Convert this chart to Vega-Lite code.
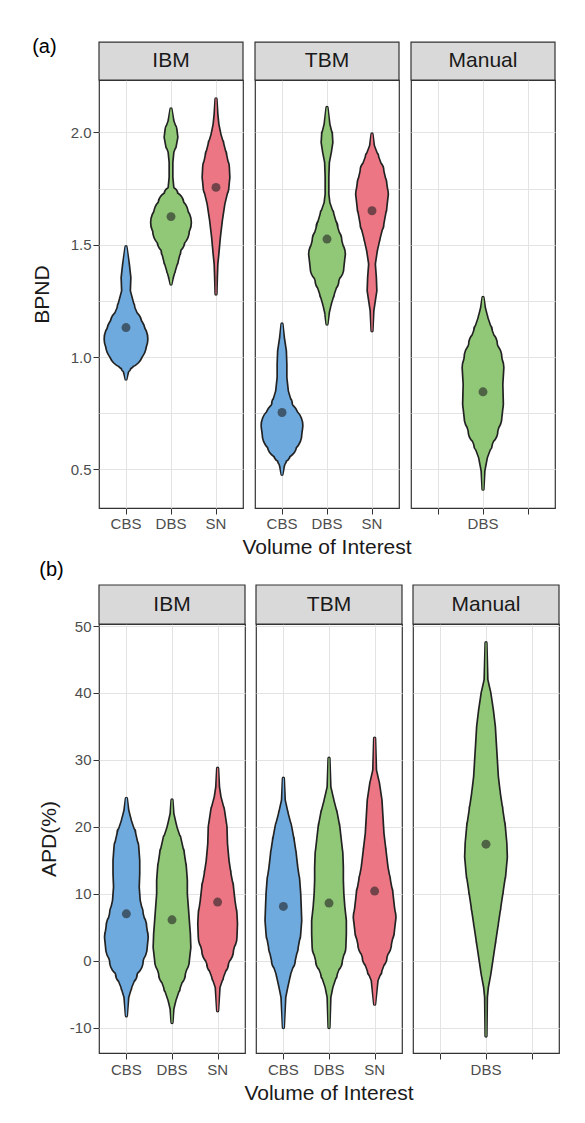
{
  "$schema": "https://vega.github.io/schema/vega-lite/v6.json",
  "background": "white",
  "padding": {"left": 31, "top": 36, "right": 10, "bottom": 10},
  "columns": 1,
  "align": "none",
  "spacing": 1,
  "config": {
    "font": "Liberation Sans",
    "view": {"stroke": "#333333", "strokeWidth": 1.2},
    "axis": {"labelColor": "#4d4d4d", "labelFontSize": 15, "titleFontSize": 21, "titleFontWeight": "normal", "titleColor": "#1a1a1a", "domain": false, "tickColor": "#333333", "tickSize": 6, "gridColor": "#e3e3e3", "gridWidth": 1},
    "title": {"fontSize": 20, "fontWeight": "normal", "color": "#000000", "anchor": "start", "frame": "bounds"}
  },
  "concat": [
    {
      "title": {"text": "(a)", "offset": -16, "dx": 1},
      "data": {"values": [
        {"kind": "strip", "panel": "IBM"}, {"kind": "strip", "panel": "TBM"}, {"kind": "strip", "panel": "Manual"},
        {"kind": "label", "panel": "IBM", "voi": "CBS"}, {"kind": "label", "panel": "IBM", "voi": "DBS"}, {"kind": "label", "panel": "IBM", "voi": "SN"},
        {"kind": "label", "panel": "TBM", "voi": "CBS"}, {"kind": "label", "panel": "TBM", "voi": "DBS"}, {"kind": "label", "panel": "TBM", "voi": "SN"},
        {"kind": "label", "panel": "Manual", "voi": "DBS"},
        {"kind": "mean", "panel": "IBM", "voi": "CBS", "value": 1.131}, {"kind": "mean", "panel": "IBM", "voi": "DBS", "value": 1.625}, {"kind": "mean", "panel": "IBM", "voi": "SN", "value": 1.755},
        {"kind": "mean", "panel": "TBM", "voi": "CBS", "value": 0.753}, {"kind": "mean", "panel": "TBM", "voi": "DBS", "value": 1.525}, {"kind": "mean", "panel": "TBM", "voi": "SN", "value": 1.651},
        {"kind": "mean", "panel": "Manual", "voi": "DBS", "value": 0.845},
        {"kind": "violin", "panel": "IBM", "voi": "CBS", "value": 1.491, "density": 0},
        {"kind": "violin", "panel": "IBM", "voi": "CBS", "value": 1.414, "density": 0.111},
        {"kind": "violin", "panel": "IBM", "voi": "CBS", "value": 1.354, "density": 0.178},
        {"kind": "violin", "panel": "IBM", "voi": "CBS", "value": 1.295, "density": 0.156},
        {"kind": "violin", "panel": "IBM", "voi": "CBS", "value": 1.22, "density": 0.356},
        {"kind": "violin", "panel": "IBM", "voi": "CBS", "value": 1.147, "density": 0.667},
        {"kind": "violin", "panel": "IBM", "voi": "CBS", "value": 1.11, "density": 0.822},
        {"kind": "violin", "panel": "IBM", "voi": "CBS", "value": 1.08, "density": 0.933},
        {"kind": "violin", "panel": "IBM", "voi": "CBS", "value": 1.055, "density": 0.867},
        {"kind": "violin", "panel": "IBM", "voi": "CBS", "value": 1.028, "density": 0.733},
        {"kind": "violin", "panel": "IBM", "voi": "CBS", "value": 0.983, "density": 0.378},
        {"kind": "violin", "panel": "IBM", "voi": "CBS", "value": 0.953, "density": 0.178},
        {"kind": "violin", "panel": "IBM", "voi": "CBS", "value": 0.931, "density": 0.067},
        {"kind": "violin", "panel": "IBM", "voi": "CBS", "value": 0.902, "density": 0},
        {"kind": "violin", "panel": "IBM", "voi": "DBS", "value": 2.104, "density": 0},
        {"kind": "violin", "panel": "IBM", "voi": "DBS", "value": 2.052, "density": 0.089},
        {"kind": "violin", "panel": "IBM", "voi": "DBS", "value": 2.015, "density": 0.222},
        {"kind": "violin", "panel": "IBM", "voi": "DBS", "value": 1.978, "density": 0.267},
        {"kind": "violin", "panel": "IBM", "voi": "DBS", "value": 1.941, "density": 0.2},
        {"kind": "violin", "panel": "IBM", "voi": "DBS", "value": 1.911, "density": 0.089},
        {"kind": "violin", "panel": "IBM", "voi": "DBS", "value": 1.866, "density": 0.044},
        {"kind": "violin", "panel": "IBM", "voi": "DBS", "value": 1.8, "density": 0.044},
        {"kind": "violin", "panel": "IBM", "voi": "DBS", "value": 1.755, "density": 0.089},
        {"kind": "violin", "panel": "IBM", "voi": "DBS", "value": 1.726, "density": 0.267},
        {"kind": "violin", "panel": "IBM", "voi": "DBS", "value": 1.681, "density": 0.533},
        {"kind": "violin", "panel": "IBM", "voi": "DBS", "value": 1.637, "density": 0.733},
        {"kind": "violin", "panel": "IBM", "voi": "DBS", "value": 1.599, "density": 0.867},
        {"kind": "violin", "panel": "IBM", "voi": "DBS", "value": 1.562, "density": 0.778},
        {"kind": "violin", "panel": "IBM", "voi": "DBS", "value": 1.518, "density": 0.578},
        {"kind": "violin", "panel": "IBM", "voi": "DBS", "value": 1.473, "density": 0.4},
        {"kind": "violin", "panel": "IBM", "voi": "DBS", "value": 1.428, "density": 0.289},
        {"kind": "violin", "panel": "IBM", "voi": "DBS", "value": 1.384, "density": 0.156},
        {"kind": "violin", "panel": "IBM", "voi": "DBS", "value": 1.354, "density": 0.067},
        {"kind": "violin", "panel": "IBM", "voi": "DBS", "value": 1.325, "density": 0},
        {"kind": "violin", "panel": "IBM", "voi": "SN", "value": 2.149, "density": 0},
        {"kind": "violin", "panel": "IBM", "voi": "SN", "value": 2.082, "density": 0.044},
        {"kind": "violin", "panel": "IBM", "voi": "SN", "value": 2.037, "density": 0.089},
        {"kind": "violin", "panel": "IBM", "voi": "SN", "value": 1.993, "density": 0.178},
        {"kind": "violin", "panel": "IBM", "voi": "SN", "value": 1.948, "density": 0.311},
        {"kind": "violin", "panel": "IBM", "voi": "SN", "value": 1.896, "density": 0.444},
        {"kind": "violin", "panel": "IBM", "voi": "SN", "value": 1.844, "density": 0.556},
        {"kind": "violin", "panel": "IBM", "voi": "SN", "value": 1.8, "density": 0.578},
        {"kind": "violin", "panel": "IBM", "voi": "SN", "value": 1.755, "density": 0.533},
        {"kind": "violin", "panel": "IBM", "voi": "SN", "value": 1.681, "density": 0.356},
        {"kind": "violin", "panel": "IBM", "voi": "SN", "value": 1.607, "density": 0.244},
        {"kind": "violin", "panel": "IBM", "voi": "SN", "value": 1.532, "density": 0.156},
        {"kind": "violin", "panel": "IBM", "voi": "SN", "value": 1.458, "density": 0.089},
        {"kind": "violin", "panel": "IBM", "voi": "SN", "value": 1.414, "density": 0.044},
        {"kind": "violin", "panel": "IBM", "voi": "SN", "value": 1.354, "density": 0.022},
        {"kind": "violin", "panel": "IBM", "voi": "SN", "value": 1.28, "density": 0},
        {"kind": "violin", "panel": "TBM", "voi": "CBS", "value": 1.147, "density": 0},
        {"kind": "violin", "panel": "TBM", "voi": "CBS", "value": 1.087, "density": 0.067},
        {"kind": "violin", "panel": "TBM", "voi": "CBS", "value": 1.028, "density": 0.156},
        {"kind": "violin", "panel": "TBM", "voi": "CBS", "value": 0.968, "density": 0.178},
        {"kind": "violin", "panel": "TBM", "voi": "CBS", "value": 0.909, "density": 0.178},
        {"kind": "violin", "panel": "TBM", "voi": "CBS", "value": 0.849, "density": 0.244},
        {"kind": "violin", "panel": "TBM", "voi": "CBS", "value": 0.79, "density": 0.422},
        {"kind": "violin", "panel": "TBM", "voi": "CBS", "value": 0.731, "density": 0.689},
        {"kind": "violin", "panel": "TBM", "voi": "CBS", "value": 0.694, "density": 0.889},
        {"kind": "violin", "panel": "TBM", "voi": "CBS", "value": 0.657, "density": 0.844},
        {"kind": "violin", "panel": "TBM", "voi": "CBS", "value": 0.612, "density": 0.622},
        {"kind": "violin", "panel": "TBM", "voi": "CBS", "value": 0.567, "density": 0.333},
        {"kind": "violin", "panel": "TBM", "voi": "CBS", "value": 0.538, "density": 0.156},
        {"kind": "violin", "panel": "TBM", "voi": "CBS", "value": 0.515, "density": 0.067},
        {"kind": "violin", "panel": "TBM", "voi": "CBS", "value": 0.478, "density": 0},
        {"kind": "violin", "panel": "TBM", "voi": "DBS", "value": 2.111, "density": 0},
        {"kind": "violin", "panel": "TBM", "voi": "DBS", "value": 2.037, "density": 0.089},
        {"kind": "violin", "panel": "TBM", "voi": "DBS", "value": 1.993, "density": 0.2},
        {"kind": "violin", "panel": "TBM", "voi": "DBS", "value": 1.955, "density": 0.222},
        {"kind": "violin", "panel": "TBM", "voi": "DBS", "value": 1.911, "density": 0.156},
        {"kind": "violin", "panel": "TBM", "voi": "DBS", "value": 1.866, "density": 0.067},
        {"kind": "violin", "panel": "TBM", "voi": "DBS", "value": 1.8, "density": 0.044},
        {"kind": "violin", "panel": "TBM", "voi": "DBS", "value": 1.726, "density": 0.044},
        {"kind": "violin", "panel": "TBM", "voi": "DBS", "value": 1.688, "density": 0.089},
        {"kind": "violin", "panel": "TBM", "voi": "DBS", "value": 1.637, "density": 0.267},
        {"kind": "violin", "panel": "TBM", "voi": "DBS", "value": 1.577, "density": 0.444},
        {"kind": "violin", "panel": "TBM", "voi": "DBS", "value": 1.518, "density": 0.622},
        {"kind": "violin", "panel": "TBM", "voi": "DBS", "value": 1.458, "density": 0.778},
        {"kind": "violin", "panel": "TBM", "voi": "DBS", "value": 1.399, "density": 0.711},
        {"kind": "violin", "panel": "TBM", "voi": "DBS", "value": 1.339, "density": 0.489},
        {"kind": "violin", "panel": "TBM", "voi": "DBS", "value": 1.28, "density": 0.289},
        {"kind": "violin", "panel": "TBM", "voi": "DBS", "value": 1.236, "density": 0.156},
        {"kind": "violin", "panel": "TBM", "voi": "DBS", "value": 1.198, "density": 0.067},
        {"kind": "violin", "panel": "TBM", "voi": "DBS", "value": 1.147, "density": 0},
        {"kind": "violin", "panel": "TBM", "voi": "SN", "value": 1.993, "density": 0},
        {"kind": "violin", "panel": "TBM", "voi": "SN", "value": 1.941, "density": 0.067},
        {"kind": "violin", "panel": "TBM", "voi": "SN", "value": 1.889, "density": 0.267},
        {"kind": "violin", "panel": "TBM", "voi": "SN", "value": 1.829, "density": 0.489},
        {"kind": "violin", "panel": "TBM", "voi": "SN", "value": 1.77, "density": 0.622},
        {"kind": "violin", "panel": "TBM", "voi": "SN", "value": 1.726, "density": 0.689},
        {"kind": "violin", "panel": "TBM", "voi": "SN", "value": 1.666, "density": 0.622},
        {"kind": "violin", "panel": "TBM", "voi": "SN", "value": 1.592, "density": 0.489},
        {"kind": "violin", "panel": "TBM", "voi": "SN", "value": 1.532, "density": 0.333},
        {"kind": "violin", "panel": "TBM", "voi": "SN", "value": 1.473, "density": 0.2},
        {"kind": "violin", "panel": "TBM", "voi": "SN", "value": 1.414, "density": 0.111},
        {"kind": "violin", "panel": "TBM", "voi": "SN", "value": 1.354, "density": 0.156},
        {"kind": "violin", "panel": "TBM", "voi": "SN", "value": 1.295, "density": 0.178},
        {"kind": "violin", "panel": "TBM", "voi": "SN", "value": 1.25, "density": 0.111},
        {"kind": "violin", "panel": "TBM", "voi": "SN", "value": 1.206, "density": 0.044},
        {"kind": "violin", "panel": "TBM", "voi": "SN", "value": 1.117, "density": 0},
        {"kind": "violin", "panel": "Manual", "voi": "DBS", "value": 1.265, "density": 0},
        {"kind": "violin", "panel": "Manual", "voi": "DBS", "value": 1.22, "density": 0.067},
        {"kind": "violin", "panel": "Manual", "voi": "DBS", "value": 1.176, "density": 0.178},
        {"kind": "violin", "panel": "Manual", "voi": "DBS", "value": 1.117, "density": 0.378},
        {"kind": "violin", "panel": "Manual", "voi": "DBS", "value": 1.057, "density": 0.6},
        {"kind": "violin", "panel": "Manual", "voi": "DBS", "value": 0.998, "density": 0.8},
        {"kind": "violin", "panel": "Manual", "voi": "DBS", "value": 0.953, "density": 0.889},
        {"kind": "violin", "panel": "Manual", "voi": "DBS", "value": 0.879, "density": 0.844},
        {"kind": "violin", "panel": "Manual", "voi": "DBS", "value": 0.79, "density": 0.867},
        {"kind": "violin", "panel": "Manual", "voi": "DBS", "value": 0.731, "density": 0.8},
        {"kind": "violin", "panel": "Manual", "voi": "DBS", "value": 0.671, "density": 0.622},
        {"kind": "violin", "panel": "Manual", "voi": "DBS", "value": 0.612, "density": 0.378},
        {"kind": "violin", "panel": "Manual", "voi": "DBS", "value": 0.552, "density": 0.156},
        {"kind": "violin", "panel": "Manual", "voi": "DBS", "value": 0.493, "density": 0.044},
        {"kind": "violin", "panel": "Manual", "voi": "DBS", "value": 0.412, "density": 0}
      ]},
      "facet": {"column": {"field": "panel", "type": "nominal", "sort": ["IBM", "TBM", "Manual"], "header": {"labels": false, "title": "Volume of Interest", "titleOrient": "bottom", "titleFontSize": 21, "titleFontWeight": "normal", "titleColor": "#1a1a1a", "titlePadding": 12}}},
      "spacing": 12,
      "bounds": "flush",
      "spec": {
        "width": 144,
        "height": 428,
        "resolve": {"scale": {"size": "independent"}},
        "layer": [
          {
            "transform": [{"filter": {"field": "kind", "equal": "strip"}}],
            "mark": {"type": "rect", "fill": "#d9d9d9", "stroke": "#333333", "strokeWidth": 1.2},
            "encoding": {
              "y": {"datum": 2.233, "type": "quantitative", "scale": {"domain": [0.328, 2.233], "nice": false, "zero": false}},
              "y2": {"datum": 2.402}
            }
          },
          {
            "transform": [{"filter": {"field": "kind", "equal": "strip"}}],
            "mark": {"type": "text", "fontSize": 21, "color": "#1a1a1a", "baseline": "middle"},
            "encoding": {
              "y": {"datum": 2.3175, "type": "quantitative"},
              "text": {"field": "panel", "type": "nominal"}
            }
          },
          {
            "transform": [{"filter": {"field": "kind", "equal": "violin"}}],
            "mark": {"type": "trail", "color": "#222222"},
            "encoding": {
              "x": {"field": "voi", "type": "nominal", "scale": {"type": "point", "padding": 0.6, "domain": ["CBS", "DBS", "SN"]}, "axis": {"labels": false, "title": null, "grid": true, "ticks": true}},
              "y": {"field": "value", "type": "quantitative", "axis": {"title": "BPND", "values": [0.5, 0.75, 1, 1.25, 1.5, 1.75, 2], "labelExpr": "abs(datum.value*2 - round(datum.value*2)) < 0.001 ? format(datum.value, '.1f') : ''", "tickOpacity": {"condition": {"test": "abs(datum.value*2 - round(datum.value*2)) < 0.001", "value": 1}, "value": 0}, "labelPadding": 2, "titlePadding": 18, "grid": true}},
              "size": {"field": "density", "type": "quantitative", "scale": {"domain": [0, 1], "range": [3.4, 48.4]}, "legend": null},
              "detail": {"field": "voi"},
              "order": {"field": "value", "type": "quantitative"}
            }
          },
          {
            "transform": [{"filter": {"field": "kind", "equal": "violin"}}],
            "mark": {"type": "trail"},
            "encoding": {
              "x": {"field": "voi", "type": "nominal"},
              "y": {"field": "value", "type": "quantitative"},
              "size": {"field": "density", "type": "quantitative", "scale": {"domain": [0, 1], "range": [0, 45]}, "legend": null},
              "color": {"field": "voi", "type": "nominal", "scale": {"domain": ["CBS", "DBS", "SN"], "range": ["#6eaade", "#91c878", "#ec7684"]}, "legend": null},
              "order": {"field": "value", "type": "quantitative"}
            }
          },
          {
            "transform": [{"filter": {"field": "kind", "equal": "mean"}}],
            "mark": {"type": "circle", "size": 80, "color": "#222222", "opacity": 0.6},
            "encoding": {
              "x": {"field": "voi", "type": "nominal"},
              "y": {"field": "value", "type": "quantitative"}
            }
          },
          {
            "transform": [{"filter": {"field": "kind", "equal": "label"}}],
            "mark": {"type": "text", "fontSize": 15, "color": "#4d4d4d", "baseline": "middle"},
            "encoding": {
              "x": {"field": "voi", "type": "nominal"},
              "y": {"datum": 0.257, "type": "quantitative"},
              "text": {"field": "voi", "type": "nominal"}
            }
          }
        ]
      }
    },
    {
      "title": {"text": "(b)", "offset": 4, "dx": 1},
      "data": {"values": [
        {"kind": "strip", "panel": "IBM"}, {"kind": "strip", "panel": "TBM"}, {"kind": "strip", "panel": "Manual"},
        {"kind": "label", "panel": "IBM", "voi": "CBS"}, {"kind": "label", "panel": "IBM", "voi": "DBS"}, {"kind": "label", "panel": "IBM", "voi": "SN"},
        {"kind": "label", "panel": "TBM", "voi": "CBS"}, {"kind": "label", "panel": "TBM", "voi": "DBS"}, {"kind": "label", "panel": "TBM", "voi": "SN"},
        {"kind": "label", "panel": "Manual", "voi": "DBS"},
        {"kind": "mean", "panel": "IBM", "voi": "CBS", "value": 7.0}, {"kind": "mean", "panel": "IBM", "voi": "DBS", "value": 6.1}, {"kind": "mean", "panel": "IBM", "voi": "SN", "value": 8.75},
        {"kind": "mean", "panel": "TBM", "voi": "CBS", "value": 8.1}, {"kind": "mean", "panel": "TBM", "voi": "DBS", "value": 8.6}, {"kind": "mean", "panel": "TBM", "voi": "SN", "value": 10.4},
        {"kind": "mean", "panel": "Manual", "voi": "DBS", "value": 17.4},
        {"kind": "violin", "panel": "IBM", "voi": "CBS", "value": 24.25, "density": 0},
        {"kind": "violin", "panel": "IBM", "voi": "CBS", "value": 22.5, "density": 0.067},
        {"kind": "violin", "panel": "IBM", "voi": "CBS", "value": 21, "density": 0.178},
        {"kind": "violin", "panel": "IBM", "voi": "CBS", "value": 19, "density": 0.378},
        {"kind": "violin", "panel": "IBM", "voi": "CBS", "value": 17, "density": 0.511},
        {"kind": "violin", "panel": "IBM", "voi": "CBS", "value": 15, "density": 0.556},
        {"kind": "violin", "panel": "IBM", "voi": "CBS", "value": 13, "density": 0.556},
        {"kind": "violin", "panel": "IBM", "voi": "CBS", "value": 11, "density": 0.533},
        {"kind": "violin", "panel": "IBM", "voi": "CBS", "value": 9, "density": 0.578},
        {"kind": "violin", "panel": "IBM", "voi": "CBS", "value": 7, "density": 0.711},
        {"kind": "violin", "panel": "IBM", "voi": "CBS", "value": 5, "density": 0.867},
        {"kind": "violin", "panel": "IBM", "voi": "CBS", "value": 3.5, "density": 0.933},
        {"kind": "violin", "panel": "IBM", "voi": "CBS", "value": 2, "density": 0.889},
        {"kind": "violin", "panel": "IBM", "voi": "CBS", "value": 0, "density": 0.711},
        {"kind": "violin", "panel": "IBM", "voi": "CBS", "value": -2, "density": 0.444},
        {"kind": "violin", "panel": "IBM", "voi": "CBS", "value": -4, "density": 0.2},
        {"kind": "violin", "panel": "IBM", "voi": "CBS", "value": -5.5, "density": 0.067},
        {"kind": "violin", "panel": "IBM", "voi": "CBS", "value": -8.25, "density": 0},
        {"kind": "violin", "panel": "IBM", "voi": "DBS", "value": 24, "density": 0},
        {"kind": "violin", "panel": "IBM", "voi": "DBS", "value": 22, "density": 0.044},
        {"kind": "violin", "panel": "IBM", "voi": "DBS", "value": 20, "density": 0.178},
        {"kind": "violin", "panel": "IBM", "voi": "DBS", "value": 18, "density": 0.378},
        {"kind": "violin", "panel": "IBM", "voi": "DBS", "value": 16, "density": 0.511},
        {"kind": "violin", "panel": "IBM", "voi": "DBS", "value": 14, "density": 0.6},
        {"kind": "violin", "panel": "IBM", "voi": "DBS", "value": 12, "density": 0.644},
        {"kind": "violin", "panel": "IBM", "voi": "DBS", "value": 10, "density": 0.644},
        {"kind": "violin", "panel": "IBM", "voi": "DBS", "value": 8, "density": 0.689},
        {"kind": "violin", "panel": "IBM", "voi": "DBS", "value": 6, "density": 0.733},
        {"kind": "violin", "panel": "IBM", "voi": "DBS", "value": 4, "density": 0.778},
        {"kind": "violin", "panel": "IBM", "voi": "DBS", "value": 2, "density": 0.8},
        {"kind": "violin", "panel": "IBM", "voi": "DBS", "value": 0, "density": 0.733},
        {"kind": "violin", "panel": "IBM", "voi": "DBS", "value": -2, "density": 0.556},
        {"kind": "violin", "panel": "IBM", "voi": "DBS", "value": -4, "density": 0.333},
        {"kind": "violin", "panel": "IBM", "voi": "DBS", "value": -6, "density": 0.133},
        {"kind": "violin", "panel": "IBM", "voi": "DBS", "value": -7.25, "density": 0.044},
        {"kind": "violin", "panel": "IBM", "voi": "DBS", "value": -9.25, "density": 0},
        {"kind": "violin", "panel": "IBM", "voi": "SN", "value": 28.75, "density": 0},
        {"kind": "violin", "panel": "IBM", "voi": "SN", "value": 26, "density": 0.044},
        {"kind": "violin", "panel": "IBM", "voi": "SN", "value": 24.5, "density": 0.111},
        {"kind": "violin", "panel": "IBM", "voi": "SN", "value": 22.5, "density": 0.267},
        {"kind": "violin", "panel": "IBM", "voi": "SN", "value": 20, "density": 0.378},
        {"kind": "violin", "panel": "IBM", "voi": "SN", "value": 17.5, "density": 0.4},
        {"kind": "violin", "panel": "IBM", "voi": "SN", "value": 15, "density": 0.467},
        {"kind": "violin", "panel": "IBM", "voi": "SN", "value": 13, "density": 0.556},
        {"kind": "violin", "panel": "IBM", "voi": "SN", "value": 11, "density": 0.667},
        {"kind": "violin", "panel": "IBM", "voi": "SN", "value": 9, "density": 0.733},
        {"kind": "violin", "panel": "IBM", "voi": "SN", "value": 7, "density": 0.822},
        {"kind": "violin", "panel": "IBM", "voi": "SN", "value": 5.5, "density": 0.844},
        {"kind": "violin", "panel": "IBM", "voi": "SN", "value": 3.5, "density": 0.822},
        {"kind": "violin", "panel": "IBM", "voi": "SN", "value": 1.5, "density": 0.667},
        {"kind": "violin", "panel": "IBM", "voi": "SN", "value": -0.5, "density": 0.444},
        {"kind": "violin", "panel": "IBM", "voi": "SN", "value": -2.5, "density": 0.222},
        {"kind": "violin", "panel": "IBM", "voi": "SN", "value": -4, "density": 0.067},
        {"kind": "violin", "panel": "IBM", "voi": "SN", "value": -7.5, "density": 0},
        {"kind": "violin", "panel": "TBM", "voi": "CBS", "value": 27.25, "density": 0},
        {"kind": "violin", "panel": "TBM", "voi": "CBS", "value": 24, "density": 0.044},
        {"kind": "violin", "panel": "TBM", "voi": "CBS", "value": 22, "density": 0.178},
        {"kind": "violin", "panel": "TBM", "voi": "CBS", "value": 20, "density": 0.333},
        {"kind": "violin", "panel": "TBM", "voi": "CBS", "value": 18, "density": 0.444},
        {"kind": "violin", "panel": "TBM", "voi": "CBS", "value": 16, "density": 0.533},
        {"kind": "violin", "panel": "TBM", "voi": "CBS", "value": 14, "density": 0.6},
        {"kind": "violin", "panel": "TBM", "voi": "CBS", "value": 12, "density": 0.689},
        {"kind": "violin", "panel": "TBM", "voi": "CBS", "value": 10, "density": 0.733},
        {"kind": "violin", "panel": "TBM", "voi": "CBS", "value": 8, "density": 0.756},
        {"kind": "violin", "panel": "TBM", "voi": "CBS", "value": 6, "density": 0.778},
        {"kind": "violin", "panel": "TBM", "voi": "CBS", "value": 4, "density": 0.733},
        {"kind": "violin", "panel": "TBM", "voi": "CBS", "value": 2, "density": 0.622},
        {"kind": "violin", "panel": "TBM", "voi": "CBS", "value": 0, "density": 0.489},
        {"kind": "violin", "panel": "TBM", "voi": "CBS", "value": -2, "density": 0.289},
        {"kind": "violin", "panel": "TBM", "voi": "CBS", "value": -4, "density": 0.156},
        {"kind": "violin", "panel": "TBM", "voi": "CBS", "value": -5.5, "density": 0.067},
        {"kind": "violin", "panel": "TBM", "voi": "CBS", "value": -10, "density": 0},
        {"kind": "violin", "panel": "TBM", "voi": "DBS", "value": 30.25, "density": 0},
        {"kind": "violin", "panel": "TBM", "voi": "DBS", "value": 26, "density": 0.044},
        {"kind": "violin", "panel": "TBM", "voi": "DBS", "value": 24, "density": 0.178},
        {"kind": "violin", "panel": "TBM", "voi": "DBS", "value": 22, "density": 0.333},
        {"kind": "violin", "panel": "TBM", "voi": "DBS", "value": 20, "density": 0.444},
        {"kind": "violin", "panel": "TBM", "voi": "DBS", "value": 18, "density": 0.511},
        {"kind": "violin", "panel": "TBM", "voi": "DBS", "value": 16, "density": 0.578},
        {"kind": "violin", "panel": "TBM", "voi": "DBS", "value": 14, "density": 0.6},
        {"kind": "violin", "panel": "TBM", "voi": "DBS", "value": 12, "density": 0.6},
        {"kind": "violin", "panel": "TBM", "voi": "DBS", "value": 10, "density": 0.622},
        {"kind": "violin", "panel": "TBM", "voi": "DBS", "value": 8, "density": 0.667},
        {"kind": "violin", "panel": "TBM", "voi": "DBS", "value": 6, "density": 0.733},
        {"kind": "violin", "panel": "TBM", "voi": "DBS", "value": 4, "density": 0.733},
        {"kind": "violin", "panel": "TBM", "voi": "DBS", "value": 2, "density": 0.711},
        {"kind": "violin", "panel": "TBM", "voi": "DBS", "value": 0, "density": 0.556},
        {"kind": "violin", "panel": "TBM", "voi": "DBS", "value": -2, "density": 0.333},
        {"kind": "violin", "panel": "TBM", "voi": "DBS", "value": -4, "density": 0.133},
        {"kind": "violin", "panel": "TBM", "voi": "DBS", "value": -5.5, "density": 0.044},
        {"kind": "violin", "panel": "TBM", "voi": "DBS", "value": -10, "density": 0},
        {"kind": "violin", "panel": "TBM", "voi": "SN", "value": 33.25, "density": 0},
        {"kind": "violin", "panel": "TBM", "voi": "SN", "value": 28.5, "density": 0.044},
        {"kind": "violin", "panel": "TBM", "voi": "SN", "value": 26.5, "density": 0.178},
        {"kind": "violin", "panel": "TBM", "voi": "SN", "value": 24, "density": 0.289},
        {"kind": "violin", "panel": "TBM", "voi": "SN", "value": 21.5, "density": 0.333},
        {"kind": "violin", "panel": "TBM", "voi": "SN", "value": 19, "density": 0.378},
        {"kind": "violin", "panel": "TBM", "voi": "SN", "value": 16.5, "density": 0.467},
        {"kind": "violin", "panel": "TBM", "voi": "SN", "value": 14, "density": 0.556},
        {"kind": "violin", "panel": "TBM", "voi": "SN", "value": 12, "density": 0.667},
        {"kind": "violin", "panel": "TBM", "voi": "SN", "value": 10, "density": 0.778},
        {"kind": "violin", "panel": "TBM", "voi": "SN", "value": 8, "density": 0.844},
        {"kind": "violin", "panel": "TBM", "voi": "SN", "value": 6.5, "density": 0.911},
        {"kind": "violin", "panel": "TBM", "voi": "SN", "value": 4.5, "density": 0.844},
        {"kind": "violin", "panel": "TBM", "voi": "SN", "value": 2.5, "density": 0.711},
        {"kind": "violin", "panel": "TBM", "voi": "SN", "value": 0.5, "density": 0.511},
        {"kind": "violin", "panel": "TBM", "voi": "SN", "value": -1.5, "density": 0.289},
        {"kind": "violin", "panel": "TBM", "voi": "SN", "value": -3, "density": 0.111},
        {"kind": "violin", "panel": "TBM", "voi": "SN", "value": -6.5, "density": 0},
        {"kind": "violin", "panel": "Manual", "voi": "DBS", "value": 47.5, "density": 0},
        {"kind": "violin", "panel": "Manual", "voi": "DBS", "value": 42, "density": 0.044},
        {"kind": "violin", "panel": "Manual", "voi": "DBS", "value": 40, "density": 0.178},
        {"kind": "violin", "panel": "Manual", "voi": "DBS", "value": 37.5, "density": 0.289},
        {"kind": "violin", "panel": "Manual", "voi": "DBS", "value": 35, "density": 0.378},
        {"kind": "violin", "panel": "Manual", "voi": "DBS", "value": 32.5, "density": 0.422},
        {"kind": "violin", "panel": "Manual", "voi": "DBS", "value": 30, "density": 0.467},
        {"kind": "violin", "panel": "Manual", "voi": "DBS", "value": 27.5, "density": 0.511},
        {"kind": "violin", "panel": "Manual", "voi": "DBS", "value": 25, "density": 0.6},
        {"kind": "violin", "panel": "Manual", "voi": "DBS", "value": 22.5, "density": 0.711},
        {"kind": "violin", "panel": "Manual", "voi": "DBS", "value": 20, "density": 0.822},
        {"kind": "violin", "panel": "Manual", "voi": "DBS", "value": 17.5, "density": 0.889},
        {"kind": "violin", "panel": "Manual", "voi": "DBS", "value": 15.5, "density": 0.911},
        {"kind": "violin", "panel": "Manual", "voi": "DBS", "value": 13, "density": 0.844},
        {"kind": "violin", "panel": "Manual", "voi": "DBS", "value": 10.5, "density": 0.733},
        {"kind": "violin", "panel": "Manual", "voi": "DBS", "value": 8, "density": 0.622},
        {"kind": "violin", "panel": "Manual", "voi": "DBS", "value": 5.5, "density": 0.511},
        {"kind": "violin", "panel": "Manual", "voi": "DBS", "value": 3, "density": 0.4},
        {"kind": "violin", "panel": "Manual", "voi": "DBS", "value": 0.5, "density": 0.289},
        {"kind": "violin", "panel": "Manual", "voi": "DBS", "value": -2, "density": 0.178},
        {"kind": "violin", "panel": "Manual", "voi": "DBS", "value": -4, "density": 0.067},
        {"kind": "violin", "panel": "Manual", "voi": "DBS", "value": -5.5, "density": 0.022},
        {"kind": "violin", "panel": "Manual", "voi": "DBS", "value": -11.25, "density": 0}
      ]},
      "facet": {"column": {"field": "panel", "type": "nominal", "sort": ["IBM", "TBM", "Manual"], "header": {"labels": false, "title": "Volume of Interest", "titleOrient": "bottom", "titleFontSize": 21, "titleFontWeight": "normal", "titleColor": "#1a1a1a", "titlePadding": 13}}},
      "spacing": 11,
      "bounds": "flush",
      "spec": {
        "width": 146,
        "height": 429,
        "resolve": {"scale": {"size": "independent"}},
        "layer": [
          {
            "transform": [{"filter": {"field": "kind", "equal": "strip"}}],
            "mark": {"type": "rect", "fill": "#d9d9d9", "stroke": "#333333", "strokeWidth": 1.2},
            "encoding": {
              "y": {"datum": 50.3, "type": "quantitative", "scale": {"domain": [-13.8, 50.3], "nice": false, "zero": false}},
              "y2": {"datum": 56.13}
            }
          },
          {
            "transform": [{"filter": {"field": "kind", "equal": "strip"}}],
            "mark": {"type": "text", "fontSize": 21, "color": "#1a1a1a", "baseline": "middle"},
            "encoding": {
              "y": {"datum": 53.2, "type": "quantitative"},
              "text": {"field": "panel", "type": "nominal"}
            }
          },
          {
            "transform": [{"filter": {"field": "kind", "equal": "violin"}}],
            "mark": {"type": "trail", "color": "#222222"},
            "encoding": {
              "x": {"field": "voi", "type": "nominal", "scale": {"type": "point", "padding": 0.6, "domain": ["CBS", "DBS", "SN"]}, "axis": {"labels": false, "title": null, "grid": true, "ticks": true}},
              "y": {"field": "value", "type": "quantitative", "axis": {"title": "APD(%)", "values": [-10, -5, 0, 5, 10, 15, 20, 25, 30, 35, 40, 45, 50], "labelExpr": "datum.value % 10 == 0 ? '' + datum.value : ''", "tickOpacity": {"condition": {"test": "datum.value % 10 == 0", "value": 1}, "value": 0}, "labelPadding": 2, "titlePadding": 10, "grid": true}},
              "size": {"field": "density", "type": "quantitative", "scale": {"domain": [0, 1], "range": [3.4, 48.4]}, "legend": null},
              "detail": {"field": "voi"},
              "order": {"field": "value", "type": "quantitative"}
            }
          },
          {
            "transform": [{"filter": {"field": "kind", "equal": "violin"}}],
            "mark": {"type": "trail"},
            "encoding": {
              "x": {"field": "voi", "type": "nominal"},
              "y": {"field": "value", "type": "quantitative"},
              "size": {"field": "density", "type": "quantitative", "scale": {"domain": [0, 1], "range": [0, 45]}, "legend": null},
              "color": {"field": "voi", "type": "nominal", "scale": {"domain": ["CBS", "DBS", "SN"], "range": ["#6eaade", "#91c878", "#ec7684"]}, "legend": null},
              "order": {"field": "value", "type": "quantitative"}
            }
          },
          {
            "transform": [{"filter": {"field": "kind", "equal": "mean"}}],
            "mark": {"type": "circle", "size": 80, "color": "#222222", "opacity": 0.6},
            "encoding": {
              "x": {"field": "voi", "type": "nominal"},
              "y": {"field": "value", "type": "quantitative"}
            }
          },
          {
            "transform": [{"filter": {"field": "kind", "equal": "label"}}],
            "mark": {"type": "text", "fontSize": 15, "color": "#4d4d4d", "baseline": "middle"},
            "encoding": {
              "x": {"field": "voi", "type": "nominal"},
              "y": {"datum": -16.39, "type": "quantitative"},
              "text": {"field": "voi", "type": "nominal"}
            }
          }
        ]
      }
    }
  ]
}
